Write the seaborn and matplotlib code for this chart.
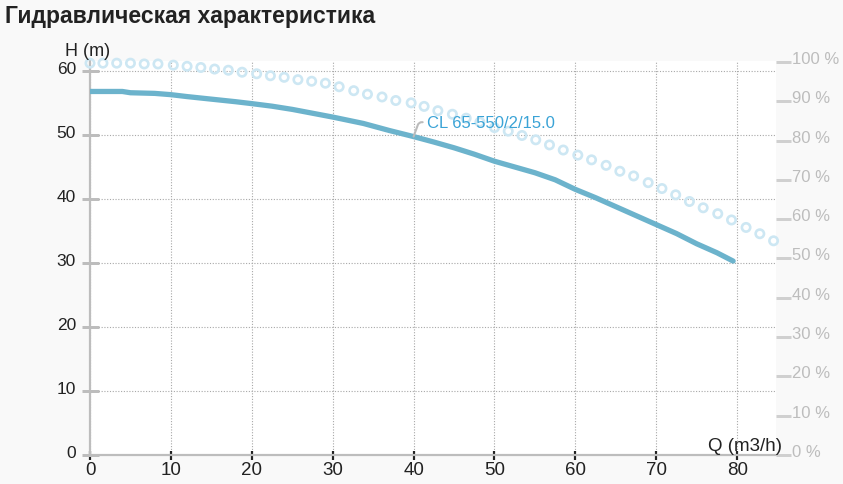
"""
Pump hydraulic curve (H vs Q) with the efficiency dots on a second axis.
"""

import matplotlib
matplotlib.use("Agg")
import matplotlib.pyplot as plt
import matplotlib.transforms as mtransforms
import numpy as np
import pandas as pd
import seaborn as sns


# Head curve
Q_HEAD = [0, 2, 4, 5, 8, 10, 12, 15, 18, 20, 22.5, 25, 27.5, 30, 33.8, 37,
          40, 42.5, 45, 47.5, 50, 52.5, 55, 57.5, 60, 62.5, 65, 67.5, 70,
          72.5, 75, 77.5, 79.5]
H_HEAD = [56.8, 56.8, 56.8, 56.6, 56.5, 56.3, 56.0, 55.6, 55.2, 54.9, 54.5,
          54.0, 53.4, 52.8, 51.8, 50.7, 49.75, 48.9, 48.0, 47.0, 45.9, 45.0,
          44.1, 43.0, 41.5, 40.2, 38.8, 37.4, 36.0, 34.6, 33.0, 31.6, 30.3]

# Efficiency dots (%)
Q_EFF = [0, 1.6, 3.3, 5.0, 6.7, 8.4, 10.3, 12.0, 13.7, 15.4, 17.1, 18.8,
         20.6, 22.3, 24.0, 25.7, 27.4, 29.1, 30.8, 32.6, 34.3, 36.1, 37.8,
         39.7, 41.3, 43.0, 44.8, 46.5, 48.2, 50.0, 51.7, 53.4, 55.1, 56.8,
         58.5, 60.3, 62.0, 63.8, 65.5, 67.2, 69.0, 70.7, 72.4, 74.1, 75.8,
         77.6, 79.3, 81.1, 82.8, 84.5]
EFF = [99.7, 99.7, 99.7, 99.7, 99.5, 99.5, 99.2, 98.9, 98.6, 98.2, 97.9,
       97.4, 97.0, 96.5, 96.1, 95.5, 95.1, 94.6, 93.7, 92.7, 91.8, 91.1,
       90.2, 89.6, 88.7, 87.6, 86.7, 85.7, 84.7, 83.3, 82.4, 81.3, 80.2,
       78.9, 77.6, 76.3, 75.1, 73.7, 72.2, 71.0, 69.3, 67.8, 66.2, 64.5,
       62.9, 61.4, 59.8, 57.9, 56.3, 54.5]

X_TICKS = [0, 10, 20, 30, 40, 50, 60, 70, 80]
H_TICKS = [0, 10, 20, 30, 40, 50, 60]
EFF_TICKS = [0, 10, 20, 30, 40, 50, 60, 70, 80, 90, 100]

MODEL_NAME = "CL 65-550/2/15.0"
TITLE = "Гидравлическая характеристика"

LINE_COLOR = "#6cb3cc"
DOT_COLOR = "#cde7f3"
LABEL_COLOR = "#3aa3d6"
AXIS_GREY = "#bdbdbd"

W, H = 843, 485
PT = 0.72  # points per pixel at dpi 100


def px_shift(fig, dy):
    return mtransforms.ScaledTranslation(0, dy / fig.dpi, fig.dpi_scale_trans)


def main():
    sns.set_theme(style="white")
    plt.rcParams["font.family"] = ["Liberation Sans", "DejaVu Sans"]

    head = pd.DataFrame({"Q": Q_HEAD, "H": H_HEAD})
    eff = pd.DataFrame({"Q": Q_EFF, "eff": EFF})

    fig = plt.figure(figsize=(W / 100, H / 100), dpi=100, facecolor="#f9f9f9")
    ax = fig.add_axes([90 / W, 1 - 456 / H, 686 / W, 394 / H])
    ax.set_facecolor("white")
    ax2 = ax.twinx()
    ax2.patch.set_visible(False)

    # efficiency dots on the % axis
    sns.scatterplot(data=eff, x="Q", y="eff", ax=ax2, marker="o", s=36,
                    color=DOT_COLOR, facecolors="none", edgecolors=DOT_COLOR,
                    linewidth=1.9, clip_on=False, zorder=2)

    # head curve
    sns.lineplot(data=head, x="Q", y="H", ax=ax, color=LINE_COLOR, lw=3.8,
                 zorder=3)

    ax.set_xlim(0, 84.8)
    ax.set_ylim(0, 61.56)
    ax2.set_ylim(0, 100.25)

    ax.set_xticks(X_TICKS)
    ax.set_yticks(H_TICKS)
    ax2.set_yticks(EFF_TICKS)
    ax2.set_yticklabels([f"{v} %" for v in EFF_TICKS])
    ax.set_xlabel("")
    ax.set_ylabel("")
    ax2.set_ylabel("")

    ax.grid(True, ls=(0, (1, 1.5)), color="#a8a8a8", lw=0.8)
    ax.set_axisbelow(True)

    for side in ["top", "right"]:
        ax.spines[side].set_visible(False)
        ax2.spines[side].set_visible(False)
    ax2.spines["left"].set_visible(False)
    ax2.spines["bottom"].set_visible(False)
    for side in ["left", "bottom"]:
        ax.spines[side].set_color(AXIS_GREY)
        ax.spines[side].set_linewidth(2.2 * PT)

    ax.tick_params(axis="x", bottom=True, direction="inout", length=9 * PT,
                   width=2.2 * PT, color="#222222", labelsize=13.5,
                   labelcolor="#222222", pad=1)
    ax.tick_params(axis="y", left=True, direction="inout", length=17 * PT,
                   width=3 * PT, color=AXIS_GREY, labelsize=12.5,
                   labelcolor="#222222", pad=4)
    ax2.tick_params(axis="y", right=True, direction="out", length=15 * PT,
                    width=3 * PT, color="#d0d0d0", labelsize=12,
                    labelcolor="#bdbdbd", pad=1)
    for t in ax.xaxis.get_major_ticks():
        t.tick1line.set_zorder(5)

    for lbl in ax.get_yticklabels():
        lbl.set_transform(lbl.get_transform() + px_shift(fig, 4))
    for lbl in ax2.get_yticklabels():
        lbl.set_transform(lbl.get_transform() + px_shift(fig, 5))

    # model label with a small leader, drawn above the dots
    ax2.annotate(MODEL_NAME, xy=(40, 49.75), xytext=(41.7, 52.0),
                 xycoords=ax.transData, textcoords=ax.transData,
                 color=LABEL_COLOR, fontsize=12, va="center", ha="left",
                 arrowprops=dict(arrowstyle="-", color="#bbbbbb", lw=1.5,
                                 shrinkA=1, shrinkB=0,
                                 connectionstyle="angle,angleA=0,angleB=70,rad=3"),
                 zorder=4)

    fig.text(65 / W, 1 - 52 / H, "H (m)", fontsize=13, color="#222222",
             ha="left", va="center")
    fig.text(782 / W, 1 - 447 / H, "Q (m3/h)", fontsize=13.5, color="#222222",
             ha="right", va="center")
    fig.text(5 / W, 1 - 17 / H, TITLE, fontsize=16.5, fontweight="bold",
             color="#222222", ha="left", va="center")

    fig.savefig("out.png", dpi=100, facecolor=fig.get_facecolor())
    plt.close(fig)


if __name__ == "__main__":
    main()
